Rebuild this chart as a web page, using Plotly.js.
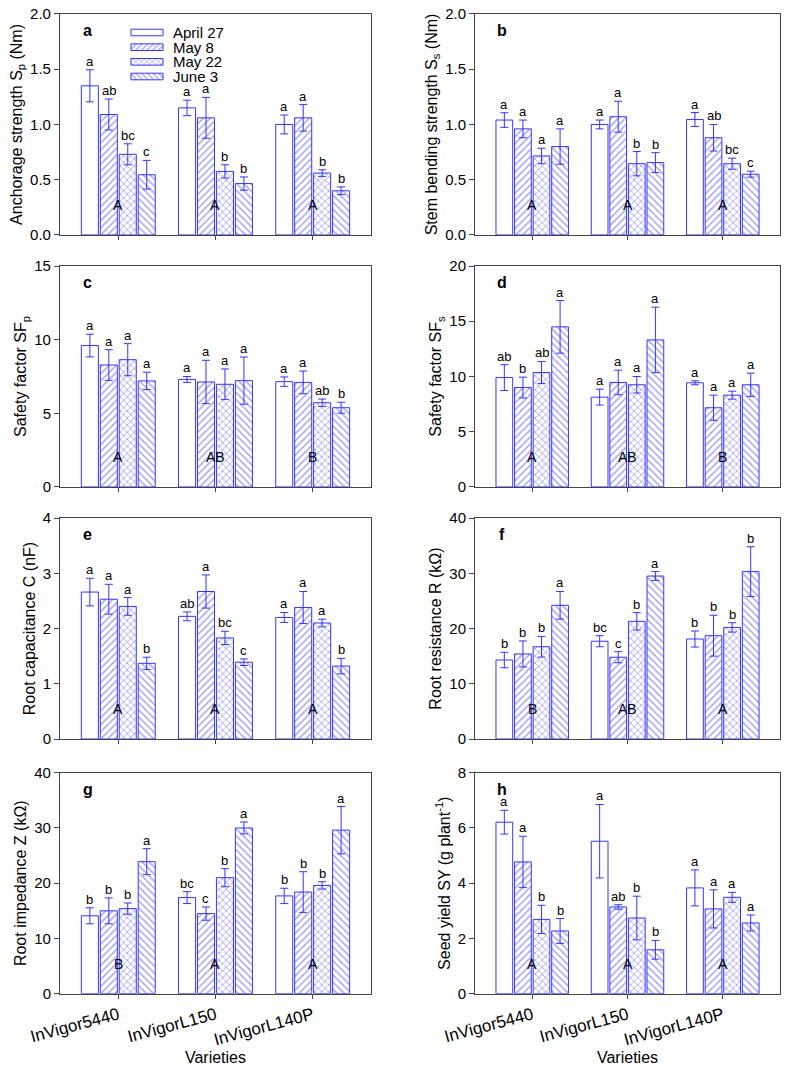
<!DOCTYPE html>
<html>
<head>
<meta charset="utf-8">
<script src="https://cdn.plot.ly/plotly-3.0.1.min.js"></script>
<style>html,body{margin:0;padding:0;background:#fff;}#chart{width:787px;height:1067px;}</style>
</head>
<body>
<div id="chart"></div>
<script>
// ---------- data ----------
const varieties = ['InVigor5440', 'InVigorL150', 'InVigorL140P'];
const dates = ['April 27', 'May 8', 'May 22', 'June 3'];

// rows = dates, columns = varieties
const anchorMean = [[1.35, 1.15, 1.00], [1.09, 1.06, 1.06], [0.73, 0.575, 0.56], [0.545, 0.465, 0.40]];
const anchorErr = [[0.145, 0.07, 0.085], [0.14, 0.185, 0.12], [0.095, 0.06, 0.03], [0.13, 0.06, 0.035]];
const anchorLetters = [['a', 'a', 'a'], ['ab', 'a', 'a'], ['bc', 'b', 'b'], ['c', 'b', 'b']];
const anchorGroup = ['A', 'A', 'A'];

const stemMean = [[1.04, 1.00, 1.045], [0.96, 1.07, 0.88], [0.715, 0.645, 0.645], [0.80, 0.655, 0.55]];
const stemErr = [[0.066, 0.04, 0.063], [0.08, 0.14, 0.12], [0.07, 0.11, 0.05], [0.16, 0.09, 0.027]];
const stemLetters = [['a', 'a', 'a'], ['a', 'a', 'ab'], ['a', 'b', 'bc'], ['a', 'b', 'c']];
const stemGroup = ['A', 'A', 'A'];

const sfpMean = [[9.6, 7.3, 7.15], [8.28, 7.13, 7.1], [8.64, 6.97, 5.72], [7.2, 7.22, 5.38]];
const sfpErr = [[0.77, 0.2, 0.32], [1.04, 1.47, 0.77], [1.09, 1.04, 0.25], [0.59, 1.6, 0.37]];
const sfpLetters = [['a', 'a', 'a'], ['a', 'a', 'a'], ['a', 'a', 'ab'], ['a', 'a', 'b']];
const sfpGroup = ['A', 'AB', 'B'];

const sfsMean = [[9.9, 8.13, 9.43], [9.0, 9.46, 7.17], [10.36, 9.25, 8.31], [14.49, 13.31, 9.25]];
const sfsErr = [[1.17, 0.72, 0.18], [0.94, 1.11, 1.14], [1.0, 0.75, 0.36], [2.38, 2.96, 1.05]];
const sfsLetters = [['ab', 'a', 'a'], ['b', 'a', 'a'], ['ab', 'a', 'a'], ['a', 'a', 'a']];
const sfsGroup = ['A', 'AB', 'B'];

const capMean = [[2.66, 2.22, 2.20], [2.53, 2.67, 2.38], [2.40, 1.83, 2.10], [1.37, 1.39, 1.32]];
const capErr = [[0.25, 0.08, 0.09], [0.27, 0.3, 0.29], [0.16, 0.12, 0.07], [0.11, 0.06, 0.14]];
const capLetters = [['a', 'ab', 'a'], ['a', 'a', 'a'], ['a', 'bc', 'a'], ['b', 'c', 'b']];
const capGroup = ['A', 'A', 'A'];

const resMean = [[14.3, 17.7, 18.1], [15.4, 14.8, 18.7], [16.7, 21.3, 20.2], [24.2, 29.5, 30.3]];
const resErr = [[1.4, 1.0, 1.45], [2.35, 1.0, 3.7], [1.87, 1.57, 0.85], [2.5, 0.8, 4.5]];
const resLetters = [['b', 'bc', 'b'], ['b', 'c', 'b'], ['b', 'b', 'b'], ['a', 'a', 'b']];
const resGroup = ['B', 'AB', 'A'];

const impMean = [[14.1, 17.4, 17.7], [15.0, 14.5, 18.4], [15.4, 21.0, 19.6], [23.9, 30.0, 29.6]];
const impErr = [[1.45, 1.08, 1.39], [2.35, 1.2, 3.68], [1.02, 1.63, 0.66], [2.35, 1.08, 4.28]];
const impLetters = [['b', 'bc', 'b'], ['b', 'c', 'b'], ['b', 'b', 'b'], ['a', 'a', 'a']];
const impGroup = ['B', 'A', 'A'];

const yieldMean = [[6.21, 5.52, 3.83], [4.77, 3.14, 3.07], [2.69, 2.74, 3.49], [2.27, 1.59, 2.56]];
const yieldErr = [[0.43, 1.33, 0.65], [0.93, 0.08, 0.69], [0.51, 0.79, 0.18], [0.45, 0.34, 0.29]];
const yieldLetters = [['a', 'a', 'a'], ['a', 'ab', 'a'], ['b', 'b', 'a'], ['b', 'b', 'a']];
const yieldGroup = ['A', 'A', 'A'];

// ---------- style ----------
const BLUE = '#3535ff';
const FONT = 'Liberation Sans, Arial, sans-serif';
const shapes = ['', '/', 'x', '\\'];
const BARGAP = 0.22;

const panels = [
  {tag: 'a', title: 'Anchorage strength S<sub>p</sub> (Nm)', mean: anchorMean, err: anchorErr, letters: anchorLetters, group: anchorGroup, range: [0, 2], dtick: 0.5, fmt: '.1f'},
  {tag: 'b', title: 'Stem bending strength S<sub>s</sub> (Nm)', mean: stemMean, err: stemErr, letters: stemLetters, group: stemGroup, range: [0, 2], dtick: 0.5, fmt: '.1f'},
  {tag: 'c', title: 'Safety factor SF<sub>p</sub>', mean: sfpMean, err: sfpErr, letters: sfpLetters, group: sfpGroup, range: [0, 15], dtick: 5, fmt: 'd'},
  {tag: 'd', title: 'Safety factor SF<sub>s</sub>', mean: sfsMean, err: sfsErr, letters: sfsLetters, group: sfsGroup, range: [0, 20], dtick: 5, fmt: 'd'},
  {tag: 'e', title: 'Root capacitance C (nF)', mean: capMean, err: capErr, letters: capLetters, group: capGroup, range: [0, 4], dtick: 1, fmt: 'd'},
  {tag: 'f', title: 'Root resistance R (kΩ)', mean: resMean, err: resErr, letters: resLetters, group: resGroup, range: [0, 40], dtick: 10, fmt: 'd'},
  {tag: 'g', title: 'Root impedance Z (kΩ)', mean: impMean, err: impErr, letters: impLetters, group: impGroup, range: [0, 40], dtick: 10, fmt: 'd'},
  {tag: 'h', title: 'Seed yield SY (g plant<sup>-1</sup>)', mean: yieldMean, err: yieldErr, letters: yieldLetters, group: yieldGroup, range: [0, 8], dtick: 2, fmt: 'd'}
];

const colDomains = [[0.0762, 0.4714], [0.6036, 0.9911]];
const rowDomains = [[0.7798, 0.9869], [0.5436, 0.7507], [0.3074, 0.5145], [0.0687, 0.2758]];

const traces = [];
const annotations = [];
const layout = {
  width: 787, height: 1067,
  margin: {l: 0, r: 0, t: 0, b: 0},
  paper_bgcolor: '#fff', plot_bgcolor: '#fff',
  font: {family: FONT, size: 14, color: '#000'},
  barmode: 'group', bargap: BARGAP, bargroupgap: 0.1,
  showlegend: false,
  annotations: annotations
};

panels.forEach((p, k) => {
  const n = k + 1;
  const sx = n === 1 ? '' : String(n);
  const col = k % 2, row = Math.floor(k / 2);
  const bottom = row === 3;
  dates.forEach((d, i) => {
    const pat = shapes[i];
    const marker = {color: '#fff', line: {color: BLUE, width: 1}};
    if (pat) marker.pattern = {shape: pat, fgcolor: BLUE, bgcolor: '#fff', size: 5, solidity: 0.28, fillmode: 'overlay'};
    traces.push({
      type: 'bar', x: varieties, y: p.mean[i], name: d,
      xaxis: 'x' + sx, yaxis: 'y' + sx,
      marker: marker,
      error_y: {type: 'data', array: p.err[i], visible: true, color: BLUE, thickness: 1, width: 4},
      hoverinfo: 'skip'
    });
    // significance letters above each error bar
    varieties.forEach((v, j) => {
      annotations.push({
        xref: 'x' + sx, yref: 'y' + sx,
        x: j + (i - 1.5) * (1 - BARGAP) / 4,
        y: p.mean[i][j] + p.err[i][j],
        text: p.letters[i][j], showarrow: false,
        yanchor: 'bottom', xanchor: 'center', yshift: -1,
        font: {family: FONT, size: 13, color: '#000'}
      });
    });
  });
  // variety group letters
  varieties.forEach((v, j) => {
    annotations.push({
      xref: 'x' + sx, yref: 'y' + sx + ' domain',
      x: j, y: 0.135, text: p.group[j], showarrow: false,
      yanchor: 'middle', xanchor: 'center',
      font: {family: FONT, size: 14, color: '#000'}
    });
  });
  // panel tag
  annotations.push({
    xref: 'x' + sx + ' domain', yref: 'y' + sx + ' domain',
    x: 0.09, y: 0.925, text: '<b>' + p.tag + '</b>', showarrow: false,
    xanchor: 'center', yanchor: 'middle',
    font: {family: FONT, size: 16, color: '#000'}
  });

  const xa = {
    domain: colDomains[col], anchor: 'y' + sx,
    type: 'category', range: [-0.6, 2.6],
    showline: true, linecolor: '#444', linewidth: 1, mirror: true,
    ticks: 'outside', ticklen: 4, tickcolor: '#444',
    showticklabels: bottom, tickangle: -15,
    tickfont: {family: FONT, size: 17, color: '#000'},
    showgrid: false, zeroline: false, fixedrange: true
  };
  if (bottom) xa.title = {text: 'Varieties', font: {family: FONT, size: 16, color: '#000'}, standoff: 2};
  layout['xaxis' + sx] = xa;
  layout['yaxis' + sx] = {
    domain: rowDomains[row], anchor: 'x' + sx,
    range: p.range, dtick: p.dtick, tick0: 0, tickformat: p.fmt,
    showline: true, linecolor: '#444', linewidth: 1, mirror: true,
    ticks: 'outside', ticklen: 5, tickcolor: '#444',
    tickfont: {family: FONT, size: 15, color: '#000'},
    showgrid: false, zeroline: false, fixedrange: true,
    title: {text: p.title, font: {family: FONT, size: 16, color: '#000'}, standoff: 3}
  };
});

// ---------- legend (key swatches drawn as bars on a hidden axis) ----------
traces.push({
  type: 'bar', orientation: 'h', y: dates, x: dates.map(() => 1), width: 0.45,
  xaxis: 'x9', yaxis: 'y9', hoverinfo: 'skip',
  marker: {color: '#fff', line: {color: BLUE, width: 1},
           pattern: {shape: shapes, fgcolor: BLUE, bgcolor: '#fff', size: 4, solidity: 0.3, fillmode: 'overlay'}}
});
layout.xaxis9 = {domain: [130 / 787, 164 / 787], anchor: 'y9', range: [-0.03, 1.03], visible: false, fixedrange: true};
layout.yaxis9 = {domain: [1 - 87 / 1067, 1 - 22 / 1067], anchor: 'x9', type: 'category', autorange: 'reversed', visible: false, fixedrange: true};
dates.forEach(d => {
  annotations.push({
    xref: 'paper', x: 171 / 787, yref: 'y9', y: d, text: d, showarrow: false,
    xanchor: 'left', yanchor: 'middle', font: {family: FONT, size: 15, color: '#000'}
  });
});

Plotly.newPlot('chart', traces, layout, {staticPlot: true, displayModeBar: false});
</script>
</body>
</html>
